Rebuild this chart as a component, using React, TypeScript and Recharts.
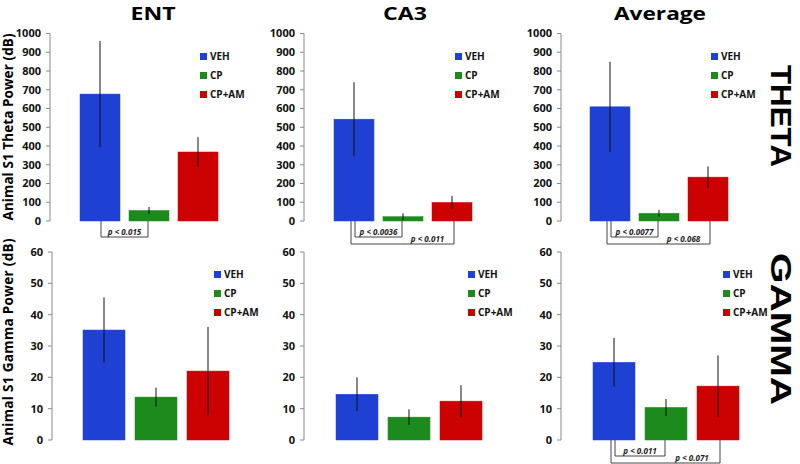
import React from 'react';
import { BarChart, Bar, XAxis, YAxis, ErrorBar, Legend } from 'recharts';

const groups = ['VEH', 'CP', 'CP+AM'];
const groupKeys = ['veh', 'cp', 'cpam'];
const groupColors = ['#1f41d3', '#1c8a1c', '#cc0202'];
const regionTitles = ['ENT', 'CA3', 'Average'];
const bandTitles = ['THETA', 'GAMMA'];
const yLabels = ['Animal S1 Theta Power (dB)', 'Animal S1 Gamma Power (dB)'];

const thetaTicks = [0, 100, 200, 300, 400, 500, 600, 700, 800, 900, 1000];
const gammaTicks = [0, 10, 20, 30, 40, 50, 60];

const thetaENT = [677, 56, 368];
const thetaENTErr = [283, 19, 79];
const thetaCA3 = [543, 23, 99];
const thetaCA3Err = [197, 18, 35];
const thetaAvg = [609, 41, 234];
const thetaAvgErr = [240, 18, 57];

const gammaENT = [35.1, 13.7, 22.0];
const gammaENTErr = [10.4, 3.0, 14.1];
const gammaCA3 = [14.6, 7.3, 12.4];
const gammaCA3Err = [5.4, 2.5, 5.1];
const gammaAvg = [24.8, 10.4, 17.2];
const gammaAvgErr = [7.8, 2.7, 9.8];

// significance brackets: [fromIndex, toIndex, label]
const bracketsThetaENT: [number, number, string][] = [[0, 1, 'p < 0.015']];
const bracketsThetaCA3: [number, number, string][] = [[0, 1, 'p < 0.0036'], [0, 2, 'p < 0.011']];
const bracketsThetaAvg: [number, number, string][] = [[0, 1, 'p < 0.0077'], [0, 2, 'p < 0.068']];
const bracketsGammaAvg: [number, number, string][] = [[0, 1, 'p < 0.011'], [0, 2, 'p < 0.071']];

const FONT = '"Open Sans", Lato, "Liberation Sans", sans-serif';

function buildRow(values: number[], errs: number[]) {
  const row: Record<string, number | string> = { name: 'group' };
  groupKeys.forEach((k, i) => {
    row[k] = values[i];
    row[k + 'Err'] = errs[i];
  });
  return [row];
}

const LegendContent = (props: any) => {
  const payload = [...(props.payload || [])].sort(
    (a: any, b: any) => groups.indexOf(a.value) - groups.indexOf(b.value)
  );
  return (
    <div style={{ fontFamily: FONT, fontWeight: 700, fontSize: 10, color: '#111' }}>
      {payload.map((p: any) => (
        <div key={p.value} style={{ display: 'flex', alignItems: 'center', height: 19 }}>
          <span style={{ display: 'inline-block', width: 7, height: 7, background: p.color, marginRight: 3 }} />
          <span>{p.value}</span>
        </div>
      ))}
    </div>
  );
};

type PanelProps = {
  left: number; top: number; width: number; height: number;
  x0: number; x1: number; yTop: number; yBot: number;
  barSize: number; gap: number; legendLeft: number; legendTop: number;
  values: number[]; errs: number[]; ticks: number[];
  brackets: [number, number, string][];
};

function Panel(p: PanelProps) {
  const data = buildRow(p.values, p.errs);
  const step = p.barSize + p.gap;
  const makeShape = (index: number) => (sp: any) => {
    const { x, y, width, height, fill } = sp;
    const base = y + height;
    const center = (i: number) => x + width / 2 - (index - i) * step;
    const mine = p.brackets.filter((b) => b[1] === index);
    return (
      <g>
        <rect x={x} y={y} width={width} height={height} fill={fill} stroke={fill} strokeWidth={0.5} />
        {mine.map((b) => {
          const wide = b[1] - b[0] > 1;
          const lx = center(b[0]) + (wide ? -3 : 1);
          const rx = center(b[1]) + (wide ? 2 : -1);
          const bottom = base + (wide ? 23 : 16);
          const tx = (center(b[1] - 1) + center(b[1])) / 2;
          return (
            <g key={b[2]}>
              <polyline points={`${lx},${base} ${lx},${bottom} ${rx},${bottom} ${rx},${base}`} fill="none" stroke="#444" strokeWidth={1} />
              <text x={tx} y={bottom - 2.5} textAnchor="middle" fontFamily={FONT} fontStyle="italic" fontWeight={700} fontSize={8} fill="#222">
                {b[2]}
              </text>
            </g>
          );
        })}
      </g>
    );
  };
  return (
    <div style={{ position: 'absolute', left: p.left, top: p.top }}>
      <BarChart
        width={p.width}
        height={p.height}
        data={data}
        barSize={p.barSize}
        barGap={p.gap}
        margin={{ left: 0, top: p.yTop - p.top, right: p.left + p.width - p.x1, bottom: p.top + p.height - p.yBot }}
      >
        <XAxis dataKey="name" tick={false} tickLine={false} height={0} axisLine={{ stroke: '#8a8a8a', strokeWidth: 1 }} />
        <YAxis
          width={p.x0 - p.left}
          domain={[p.ticks[0], p.ticks[p.ticks.length - 1]]}
          ticks={p.ticks}
          interval={0}
          tickSize={4}
          tickMargin={5}
          axisLine={{ stroke: '#8a8a8a', strokeWidth: 1 }}
          tickLine={{ stroke: '#8a8a8a' }}
          tick={{ fill: '#111', fontSize: 11, fontWeight: 700, fontFamily: FONT }}
        />
        <Legend
          layout="vertical"
          align="center"
          verticalAlign="middle"
          content={<LegendContent />}
          wrapperStyle={{ left: p.legendLeft, top: p.legendTop, width: 'auto' }}
        />
        {groupKeys.map((k, i) => (
          <Bar key={k} dataKey={k} name={groups[i]} fill={groupColors[i]} isAnimationActive={false} shape={makeShape(i)}>
            <ErrorBar dataKey={k + 'Err'} width={0} stroke="#111" strokeWidth={1} direction="y" />
          </Bar>
        ))}
      </BarChart>
    </div>
  );
}

export default function App() {
  const thetaCommon = { top: 24, height: 226, yTop: 33.5, yBot: 221, barSize: 40, gap: 9, legendTop: 22.5, ticks: thetaTicks };
  const gammaCommon = { top: 240, height: 224, yTop: 252, yBot: 440, barSize: 42, gap: 10, legendTop: 24.5, ticks: gammaTicks };
  return (
    <div style={{ position: 'absolute', left: 0, top: 0, width: 800, height: 464, background: '#fff', overflow: 'hidden', fontFamily: FONT }}>
      <svg width={800} height={464} style={{ position: 'absolute', left: 0, top: 0 }}>
        <g fontFamily={FONT} fontWeight={700} fill="#000">
          <text x={153} y={20} fontSize={18.5} textAnchor="middle" textLength={45} lengthAdjust="spacingAndGlyphs">{regionTitles[0]}</text>
          <text x={405} y={20} fontSize={18.5} textAnchor="middle" textLength={44} lengthAdjust="spacingAndGlyphs">{regionTitles[1]}</text>
          <text x={660} y={20} fontSize={18.5} textAnchor="middle" textLength={92} lengthAdjust="spacingAndGlyphs">{regionTitles[2]}</text>
          <text x={0} y={0} transform="translate(8,127) rotate(-90)" fontSize={13.5} textAnchor="middle" dominantBaseline="central" textLength={187}>{yLabels[0]}</text>
          <text x={0} y={0} transform="translate(8,342) rotate(-90)" fontSize={13.5} textAnchor="middle" dominantBaseline="central" textLength={207}>{yLabels[1]}</text>
          <text x={0} y={0} transform="translate(781,116) rotate(90)" fontFamily='"Liberation Sans", Arial, sans-serif' fontSize={30} textAnchor="middle" dominantBaseline="central" textLength={102} lengthAdjust="spacingAndGlyphs">{bandTitles[0]}</text>
          <text x={0} y={0} transform="translate(781,329) rotate(90)" fontFamily='"Liberation Sans", Arial, sans-serif' fontSize={30} textAnchor="middle" dominantBaseline="central" textLength={152} lengthAdjust="spacingAndGlyphs">{bandTitles[1]}</text>
        </g>
      </svg>
      <Panel {...thetaCommon} left={10} width={260} x0={50} x1={248} legendLeft={190} values={thetaENT} errs={thetaENTErr} brackets={bracketsThetaENT} />
      <Panel {...thetaCommon} left={262} width={268} x0={304} x1={502} legendLeft={193} values={thetaCA3} errs={thetaCA3Err} brackets={bracketsThetaCA3} />
      <Panel {...thetaCommon} left={519} width={251} x0={561} x1={757} legendLeft={192} values={thetaAvg} errs={thetaAvgErr} brackets={bracketsThetaAvg} />
      <Panel {...gammaCommon} left={20} width={250} x0={52} x1={260} legendLeft={194} values={gammaENT} errs={gammaENTErr} brackets={[]} />
      <Panel {...gammaCommon} left={280} width={250} x0={304} x1={514} legendLeft={188} values={gammaCA3} errs={gammaCA3Err} brackets={[]} />
      <Panel {...gammaCommon} left={537} width={236} x0={561} x1={770} legendLeft={186} values={gammaAvg} errs={gammaAvgErr} brackets={bracketsGammaAvg} />
    </div>
  );
}
